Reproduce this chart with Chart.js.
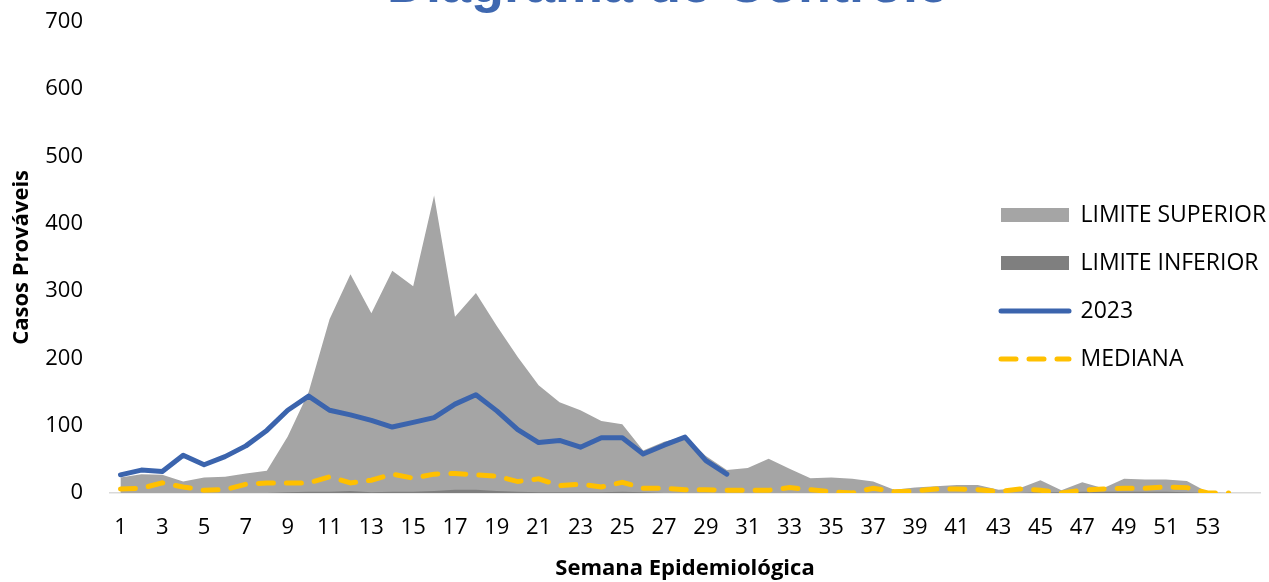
<!DOCTYPE html>
<html>
<head>
<meta charset="utf-8">
<script src="https://cdn.jsdelivr.net/npm/chart.js@4.4.1/dist/chart.umd.min.js"></script>
<style>
  html, body { margin: 0; padding: 0; overflow: hidden; background: #fff; width: 1269px; height: 582px; }
  #wrap { position: absolute; left: 0; top: -50px; width: 1335px; height: 632px; }
</style>
</head>
<body>
<div id="wrap"><canvas id="c" width="1335" height="632"></canvas></div>
<script>
// ---- data ----
const semanas = ['1','2','3','4','5','6','7','8','9','10','11','12','13','14','15','16','17','18','19','20',
  '21','22','23','24','25','26','27','28','29','30','31','32','33','34','35','36','37','38','39','40',
  '41','42','43','44','45','46','47','48','49','50','51','52','53','54',''];
const limiteSuperior = [23,28,27,17,23,24,29,33,84,150,258,325,267,330,307,442,262,297,248,202,
  160,135,123,107,102,63,76,84,55,34,37,51,36,22,23,21,17,5,8,10,12,12,5,7,19,4,16,7,21,20,20,18,1,0];
const limiteInferior = [0,0,0,0,0,0,0,0,1,2,2,3,1,2,2,3,5,5,3,2,1,1,1,1,2,1,0,0,0,0,
  0,0,0,0,0,0,0,0,0,0,0,0,0,0,1,1,2,2,2,2,2,1,0,0];
const casos2023 = [27,34,32,56,42,54,70,93,123,144,123,116,108,98,105,112,132,146,122,94,
  75,78,68,82,82,58,71,83,48,28];
const mediana = [6,7,15,9,4,5,13,15,15,15,24,15,19,28,22,28,29,27,25,17,21,11,13,9,16,7,7,5,5,4,
  4,4,8,5,2,0,7,2,3,6,6,5,2,6,4,0,4,6,7,7,9,8,0,0];
const yTicks = [0,100,200,300,400,500,600,700];

const FONT = "'Open Sans', 'Noto Sans', sans-serif";
const LEGEND_X = 976, LEGEND_Y = 228.5;

const legendPlacer = {
  id: 'legendPlacer',
  afterUpdate(chart) { place(chart); },
  beforeDraw(chart) { place(chart); }
};
function place(chart) {
  const l = chart.legend;
  if (!l) return;
  const w = l.width, h = l.height;
  l.left = LEGEND_X; l.top = LEGEND_Y; l.right = LEGEND_X + w; l.bottom = LEGEND_Y + h;
  if (l.adjustHitBoxes) l.adjustHitBoxes();
}

new Chart(document.getElementById('c'), {
  type: 'line',
  data: {
    labels: semanas,
    datasets: [
      { label: 'LIMITE SUPERIOR', data: limiteSuperior, fill: 'origin', backgroundColor: '#a5a5a5',
        borderColor: '#a5a5a5', borderWidth: 0, pointRadius: 0, pointStyle: 'rect', order: 4 },
      { label: 'LIMITE INFERIOR', data: limiteInferior, fill: 'origin', backgroundColor: '#7f7f7f',
        borderColor: '#7f7f7f', borderWidth: 0, pointRadius: 0, pointStyle: 'rect', order: 3 },
      { label: '2023', data: casos2023, fill: false, borderColor: '#3b64ad', backgroundColor: '#3b64ad',
        borderWidth: 5, borderJoinStyle: 'round', borderCapStyle: 'round', pointRadius: 0, pointStyle: 'line', order: 2 },
      { label: 'MEDIANA', data: mediana, fill: false, borderColor: '#ffc000', backgroundColor: '#ffc000',
        borderWidth: 5, borderDash: [15, 13], borderCapStyle: 'round', pointRadius: 0, pointStyle: 'line', order: 1 }
    ]
  },
  options: {
    responsive: false,
    animation: false,
    devicePixelRatio: 1,
    layout: { padding: { left: 0, right: 0, top: 0, bottom: 0 } },
    plugins: {
      tooltip: { enabled: false },
      title: {
        display: true,
        text: 'Diagrama de Controle',
        color: '#3f68b0',
        font: { family: "'Liberation Sans', Arial, sans-serif", size: 54, weight: 'bold' },
        padding: { top: 5, bottom: 2 }
      },
      legend: {
        display: true,
        position: 'chartArea',
        align: 'start',
        labels: {
          usePointStyle: true,
          pointStyleWidth: 68,
          boxWidth: 68,
          boxHeight: 14,
          padding: 25,
          color: '#000',
          font: { family: FONT, size: 23 },
          sort: (a, b) => a.datasetIndex - b.datasetIndex,
          generateLabels: (chart) => chart.data.datasets.map((ds, i) => ({
            text: ds.label,
            fillStyle: ds.backgroundColor,
            strokeStyle: ds.borderColor,
            lineWidth: ds.borderWidth,
            lineDash: ds.borderDash || [],
            lineCap: ds.borderCapStyle || 'butt',
            pointStyle: ds.pointStyle,
            fontColor: '#000',
            hidden: false,
            datasetIndex: i
          }))
        }
      }
    },
    scales: {
      x: {
        type: 'category',
        offset: true,
        grid: { display: false, drawTicks: false },
        border: { display: true, color: '#d9d9d9', width: 1.5 },
        ticks: {
          autoSkip: false, maxRotation: 0, minRotation: 0, padding: 22,
          color: '#000', font: { family: FONT, size: 22 },
          callback: function (value, index) { return index % 2 === 0 ? this.getLabelForValue(value) : ''; }
        },
        title: {
          display: true, text: 'Semana Epidemiológica', color: '#000',
          font: { family: FONT, size: 22, weight: 'bold' }, padding: { top: 0, bottom: 0 }
        },
        afterFit: (scale) => { scale.height = 89; }
      },
      y: {
        min: 0, max: 700,
        grid: { display: false, drawTicks: false },
        border: { display: false },
        afterBuildTicks: (scale) => { scale.ticks = yTicks.map(v => ({ value: v })); },
        ticks: { padding: 27, color: '#000', font: { family: FONT, size: 22 } },
        title: {
          display: true, text: 'Casos Prováveis', color: '#000',
          font: { family: FONT, size: 22, weight: 'bold' }, padding: { top: 9, bottom: 0 }
        },
        afterFit: (scale) => { scale.width = 110; }
      },
      yRightSpace: {
        position: 'right',
        display: true,
        grid: { display: false, drawTicks: false },
        border: { display: false },
        ticks: { display: false },
        afterFit: (scale) => { scale.width = 75; }
      }
    }
  },
  plugins: [legendPlacer]
});
</script>
</body>
</html>
